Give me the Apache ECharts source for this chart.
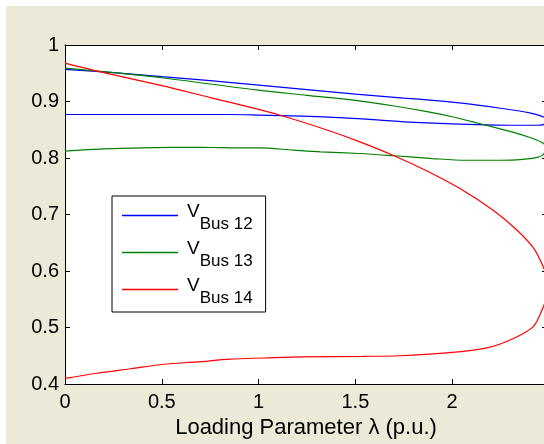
<!DOCTYPE html>
<html>
<head>
    <meta http-equiv="Content-Type" content="text/html; charset=utf-8" />
    <title>PV curves</title>
    <script src="https://cdn.jsdelivr.net/npm/echarts@6/dist/echarts.min.js"></script>
    <style>
        body { margin: 0; background: #fff; }
    </style>
</head>
<body>
    <div id="main" style="width: 544px;height:444px;"></div>
    <script type="text/javascript">

    // tick labels
    var xTicks = [0, 0.5, 1, 1.5, 2];
    var yTicks = [0.4, 0.5, 0.6, 0.7, 0.8, 0.9, 1];

    var legendNames = ['Bus 12', 'Bus 13', 'Bus 14'];

    // each curve: upper branch out to the nose, then lower branch back to lambda = 0
    var bus12Lambda = [0, 0.25, 0.5, 0.75, 1.0, 1.25, 1.5, 1.75, 1.9, 2.05, 2.25, 2.4, 2.47, 2.49,
                       2.47, 2.44, 2.3, 2.13, 1.87, 1.75, 1.63, 1.44, 1.23, 1.0, 0.85, 0.6, 0.3, 0];
    var bus12V = [0.957, 0.951, 0.944, 0.937, 0.929, 0.921, 0.913, 0.906, 0.902, 0.897, 0.888, 0.880, 0.873, 0.865,
                  0.859, 0.858, 0.858, 0.859, 0.862, 0.864, 0.867, 0.871, 0.874, 0.876, 0.877, 0.877, 0.877, 0.877];

    var bus13Lambda = [0, 0.25, 0.5, 0.75, 1.0, 1.25, 1.5, 1.7, 1.87, 2.0, 2.13, 2.3, 2.42, 2.47, 2.49,
                       2.47, 2.44, 2.35, 2.25, 2.07, 1.9, 1.7, 1.52, 1.32, 1.18, 1.0, 0.9, 0.7, 0.4, 0.2, 0];
    var bus13V = [0.959, 0.951, 0.942, 0.931, 0.920, 0.911, 0.902, 0.892, 0.882, 0.873, 0.862, 0.847, 0.834, 0.826, 0.816,
                  0.806, 0.801, 0.797, 0.796, 0.796, 0.799, 0.804, 0.808, 0.811, 0.814, 0.818, 0.818, 0.819, 0.818, 0.816, 0.812];

    var bus14Lambda = [0, 0.2, 0.5, 0.75, 1.0, 1.1, 1.35, 1.52, 1.7, 1.87, 2.04, 2.21, 2.33, 2.42, 2.47, 2.485, 2.49,
                       2.485, 2.47, 2.42, 2.32, 2.18, 1.97, 1.73, 1.54, 1.23, 1.03, 0.855, 0.68, 0.51, 0.34, 0.165, 0];
    var bus14V = [0.968, 0.951, 0.928, 0.907, 0.886, 0.877, 0.850, 0.829, 0.804, 0.777, 0.746, 0.708, 0.674, 0.641, 0.608, 0.590, 0.572,
                  0.553, 0.536, 0.502, 0.481, 0.464, 0.455, 0.450, 0.449, 0.448, 0.446, 0.444, 0.439, 0.435, 0.427, 0.419, 0.410];

    var colors = ['#0000ff', '#008000', '#ff0000'];

    function zip(xs, ys) {
        var out = [];
        for (var i = 0; i < xs.length; i++) {
            out.push([xs[i], ys[i]]);
        }
        return out;
    }

    var curves = [zip(bus12Lambda, bus12V), zip(bus13Lambda, bus13V), zip(bus14Lambda, bus14V)];

    var font = 'Liberation Sans';

    var myChart = echarts.init(document.getElementById('main'));

    var series = legendNames.map(function (name, i) {
        return {
            name: name,
            type: 'line',
            data: curves[i],
            symbol: 'none',
            smooth: 0.3,
            lineStyle: { color: colors[i], width: 1.2 },
            itemStyle: { color: colors[i] },
            xAxisIndex: 0,
            yAxisIndex: 0
        };
    });

    var tickStyle = { show: true, inside: true, length: 5, lineStyle: { color: '#000', width: 1 } };
    var lineStyle = { show: true, onZero: false, lineStyle: { color: '#000', width: 1 } };

    option = {
        animation: false,
        backgroundColor: '#fff',
        graphic: [{
            type: 'rect',
            z: -10,
            silent: true,
            shape: { x: 6, y: 6, width: 540, height: 440 },
            style: { fill: '#ece9d8' }
        }],
        grid: {
            left: 65,
            right: -3,
            top: 45,
            bottom: 60,
            containLabel: false,
            outerBoundsMode: 'none',
            show: true,
            backgroundColor: '#fff',
            borderWidth: 0
        },
        legend: {
            orient: 'vertical',
            left: 112,
            top: 196,
            data: legendNames,
            icon: 'rect',
            itemWidth: 56,
            itemHeight: 1.3,
            itemGap: 2,
            padding: [2, 13, 5, 10],
            backgroundColor: '#fff',
            borderColor: '#000',
            borderWidth: 1,
            borderRadius: 0,
            formatter: function (name) {
                return '{v|V}{s|' + name + '}';
            },
            textStyle: {
                lineHeight: 31,
                padding: [4, 0, 0, 4],
                rich: {
                    v: { fontFamily: font, fontSize: 19, color: '#000', verticalAlign: 'top', lineHeight: 31 },
                    s: { fontFamily: font, fontSize: 17, color: '#000', verticalAlign: 'bottom', lineHeight: 31 }
                }
            }
        },
        xAxis: [{
            type: 'value',
            min: 0,
            max: 2.49,
            interval: 0.5,
            position: 'bottom',
            name: 'Loading Parameter \u03bb (p.u.)',
            nameLocation: 'middle',
            nameGap: 30,
            nameTextStyle: { fontFamily: font, fontSize: 22, color: '#000' },
            axisLine: lineStyle,
            axisTick: { show: true, inside: true, length: 5, customValues: xTicks, lineStyle: { color: '#000', width: 1 } },
            splitLine: { show: false },
            axisLabel: { margin: 8, fontFamily: font, fontSize: 20, color: '#000', customValues: xTicks }
        }, {
            type: 'value',
            min: 0,
            max: 2.49,
            interval: 0.5,
            position: 'top',
            axisLine: lineStyle,
            axisTick: { show: true, inside: true, length: 5, customValues: xTicks, lineStyle: { color: '#000', width: 1 } },
            splitLine: { show: false },
            axisLabel: { show: false }
        }],
        yAxis: [{
            type: 'value',
            min: yTicks[0],
            max: yTicks[yTicks.length - 1],
            interval: 0.1,
            position: 'left',
            axisLine: lineStyle,
            axisTick: tickStyle,
            splitLine: { show: false },
            axisLabel: { margin: 6, fontFamily: font, fontSize: 20, color: '#000' }
        }, {
            type: 'value',
            min: yTicks[0],
            max: yTicks[yTicks.length - 1],
            interval: 0.1,
            position: 'right',
            axisLine: lineStyle,
            axisTick: tickStyle,
            splitLine: { show: false },
            axisLabel: { show: false }
        }],
        series: series
    };

    myChart.setOption(option);
    </script>
</body>
</html>
